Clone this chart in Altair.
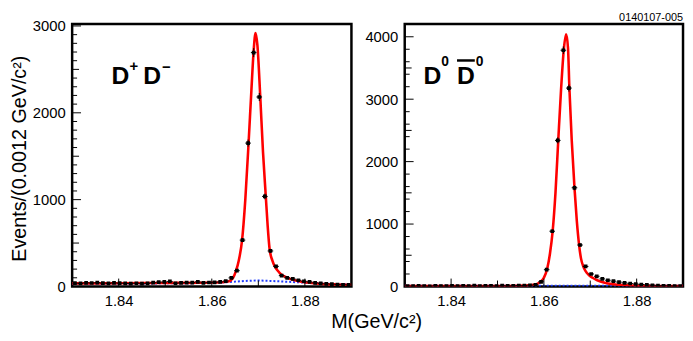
import altair as alt
import pandas as pd

# ---------------- data ----------------
BIN_LO = 1.83          # histogram lower edge (GeV/c^2)
BIN_W = 0.0012         # bin width (GeV/c^2)
X_DOMAIN = [1.83, 1.89]

# D+ D- panel : events per bin (50 bins)
dp_counts = [38, 35, 42, 40, 44, 39, 36, 41, 38, 35,
             33, 37, 32, 36, 44, 50, 52, 58, 37, 42,
             45, 44, 53, 42, 46, 48, 52, 62, 99, 182,
             534, 1651, 2693, 2182, 1037, 409, 231, 125, 99, 87,
             72, 60, 53, 42, 36, 30, 26, 22, 20, 18]
# fit (red) and background (blue dotted)
dp_fit_x = [1.830, 1.840, 1.850, 1.858, 1.862, 1.8635, 1.8645, 1.8652, 1.8658, 1.8665,
            1.8672, 1.8679, 1.8685, 1.8690, 1.8694, 1.8698, 1.8704, 1.8710, 1.8716, 1.8720,
            1.8724, 1.8730, 1.8736, 1.8745, 1.8755, 1.8770, 1.8790, 1.8810, 1.8840, 1.8870, 1.8900]
dp_fit_y = [36, 38, 41, 43, 48, 56, 95, 180, 300, 530,
            1000, 1650, 2250, 2720, 2920, 2780, 2200, 1550, 1040, 700,
            440, 300, 225, 160, 120, 85, 58, 42, 28, 23, 20]
dp_bkg_x = [1.830, 1.850, 1.858, 1.862, 1.865, 1.868, 1.870, 1.873, 1.876, 1.880, 1.884, 1.890]
dp_bkg_y = [33, 36, 40, 46, 56, 66, 68, 63, 55, 44, 33, 22]

# D0 D0bar panel
d0_counts = [8, 5, 10, 6, 4, 12, 7, 5, 9, 6,
             10, 8, 14, 6, 9, 11, 7, 13, 10, 12,
             15, 14, 20, 28, 75, 269, 885, 2340, 3784, 3178,
             1581, 664, 321, 200, 163, 122, 100, 85, 70, 58,
             48, 40, 32, 26, 20, 16, 12, 10, 8, 6]
d0_fit_x = [1.830, 1.845, 1.852, 1.856, 1.858, 1.859, 1.860, 1.8607, 1.8613, 1.8619,
            1.8625, 1.8631, 1.8637, 1.8643, 1.8648, 1.8652, 1.8655, 1.8660, 1.8666, 1.8671,
            1.8676, 1.8680, 1.8685, 1.8690, 1.8696, 1.8705, 1.8715, 1.8731, 1.8750, 1.8780,
            1.8820, 1.8860, 1.8900]
d0_fit_y = [8, 8, 9, 14, 30, 60, 140, 280, 520, 890,
            1500, 2340, 3150, 3800, 4040, 3820, 3180, 2350, 1580, 1050,
            660, 450, 320, 245, 190, 140, 100, 60, 36, 20,
            10, 8, 8]
d0_bkg_x = [1.830, 1.890]
d0_bkg_y = [12, 12]

# axis tick values
x_label_vals = [1.84, 1.86, 1.88]
x_minor_vals = [1.85, 1.87]
dp_y_labels = [0, 1000, 2000, 3000]
d0_y_labels = [0, 1000, 2000, 3000, 4000]

FONT = "Liberation Sans"
W_L, W_R, H = 283, 282, 266


def panel(counts, fit_x, fit_y, bkg_x, bkg_y, ymax, ylabels, minor_step, xtitle):
    centers = [round(BIN_LO + BIN_W * (k + 0.5), 5) for k in range(len(counts))]
    pts = pd.DataFrame({"x": centers, "n": counts})
    fit = pd.DataFrame({"x": fit_x, "n": fit_y})
    bkg = pd.DataFrame({"x": bkg_x, "n": bkg_y})

    xs = alt.Scale(domain=X_DOMAIN, nice=False, zero=False)
    ys = alt.Scale(domain=[0, ymax], nice=False, zero=False)

    xaxis_kw = dict(values=x_label_vals, format=".2f", ticks=False, domain=False,
                    grid=False, labelFontSize=15, labelPadding=7, labelFont=FONT)
    if xtitle:
        xaxis = alt.Axis(title=xtitle, titleFont=FONT, titleFontSize=20,
                         titleFontWeight="normal", titleX=308, titleY=26,
                         titleBaseline="top", **xaxis_kw)
    else:
        xaxis = alt.Axis(title="", **xaxis_kw)

    yaxis_kw = dict(values=ylabels, format="d", ticks=False, domain=False, grid=False,
                    labelFontSize=15, labelPadding=7, labelFont=FONT)
    if xtitle:
        yaxis = alt.Axis(title="Events/(0.0012 GeV/c²)", titleFont=FONT,
                         titleFontSize=20, titleFontWeight="normal",
                         titleX=-53, titleY=136, titleBaseline="middle",
                         titleAngle=270, **yaxis_kw)
    else:
        yaxis = alt.Axis(title="", **yaxis_kw)

    def X(f):
        return alt.X(f, scale=xs, axis=xaxis)

    def Y(f):
        return alt.Y(f, scale=ys, axis=yaxis)

    bkg_line = alt.Chart(bkg).mark_line(
        color="#1f3dff", strokeWidth=2, strokeDash=[2, 2], clip=True,
        interpolate="monotone").encode(x=X("x:Q"), y=Y("n:Q"))

    fit_line = alt.Chart(fit).mark_line(
        color="#ff0000", strokeWidth=2.6, clip=True,
        interpolate="monotone").encode(x=X("x:Q"), y=Y("n:Q"))

    base = alt.Chart(pts).transform_calculate(
        lo="datum.n - sqrt(datum.n)",
        hi="datum.n + sqrt(datum.n)",
        xl=f"datum.x - {BIN_W / 2}",
        xr=f"datum.x + {BIN_W / 2}")

    vbar = base.mark_rule(color="black", strokeWidth=1, clip=True).encode(
        x=X("x:Q"), y=Y("lo:Q"), y2="hi:Q")
    hbar = base.mark_rule(color="black", strokeWidth=1, clip=True).encode(
        x=X("xl:Q"), x2="xr:Q", y=Y("n:Q"))
    dots = base.mark_square(color="black", size=14, opacity=1, clip=True).encode(
        x=X("x:Q"), y=Y("n:Q"))

    # inward tick marks (ROOT style)
    xt_major = alt.Chart(pd.DataFrame({"x": x_label_vals})).mark_rule(
        color="black", strokeWidth=1).encode(
        x=X("x:Q"), y=alt.value(H), y2=alt.value(H - 8))
    xt_minor = alt.Chart(pd.DataFrame({"x": x_minor_vals})).mark_rule(
        color="black", strokeWidth=1).encode(
        x=X("x:Q"), y=alt.value(H), y2=alt.value(H - 6))

    maj = [v for v in ylabels if v > 0]
    med = [v for v in range(500, int(ymax), 1000)]
    mnr = [v for v in range(minor_step, int(ymax), minor_step) if v % 500 != 0]
    yt_major = alt.Chart(pd.DataFrame({"n": maj})).mark_rule(
        color="black", strokeWidth=1).encode(
        y=Y("n:Q"), x=alt.value(0), x2=alt.value(9))
    yt_med = alt.Chart(pd.DataFrame({"n": med})).mark_rule(
        color="black", strokeWidth=1).encode(
        y=Y("n:Q"), x=alt.value(0), x2=alt.value(7))
    yt_minor = alt.Chart(pd.DataFrame({"n": mnr})).mark_rule(
        color="black", strokeWidth=1).encode(
        y=Y("n:Q"), x=alt.value(0), x2=alt.value(5))

    return [bkg_line, fit_line, vbar, hbar, dots,
            xt_major, xt_minor, yt_major, yt_med, yt_minor]


one = alt.Data(values=[{"a": 1}])


def label(text, x, y, size, align="left", weight="bold"):
    return alt.Chart(one).mark_text(
        text=text, font=FONT, fontSize=size, fontWeight=weight, align=align,
        baseline="alphabetic", color="black").encode(
        x=alt.value(x), y=alt.value(y))


left_layers = panel(dp_counts, dp_fit_x, dp_fit_y, dp_bkg_x, dp_bkg_y,
                    3023, dp_y_labels, 100, "M(GeV/c²)")
left_layers += [
    label("D", 40, 61, 25),
    label("+", 58, 48, 15),
    label("D", 72, 61, 25),
    label("−", 91, 49, 15),
]
left = alt.layer(*left_layers).properties(width=W_L, height=H)

right_layers = panel(d0_counts, d0_fit_x, d0_fit_y, d0_bkg_x, d0_bkg_y,
                     4205, d0_y_labels, 200, "")
right_layers += [
    label("D", 19, 61, 25),
    label("0", 37, 43, 14),
    label("D", 53, 61, 25),
    label("0", 72, 43, 14),
    alt.Chart(one).mark_rule(color="black", strokeWidth=2.5).encode(
        x=alt.value(53), x2=alt.value(71), y=alt.value(37)),
    label("0140107-005", W_R, -3, 11, align="right", weight="normal"),
]
right = alt.layer(*right_layers).properties(width=W_R, height=H)

chart = alt.hconcat(left, right, spacing=54, bounds="flush").properties(
    padding=0
).configure_view(
    stroke="black", strokeWidth=2.5
).configure_axis(
    labelColor="black", titleColor="black"
)

chart.save("out.html", embed_options={"renderer": "svg", "actions": False})
